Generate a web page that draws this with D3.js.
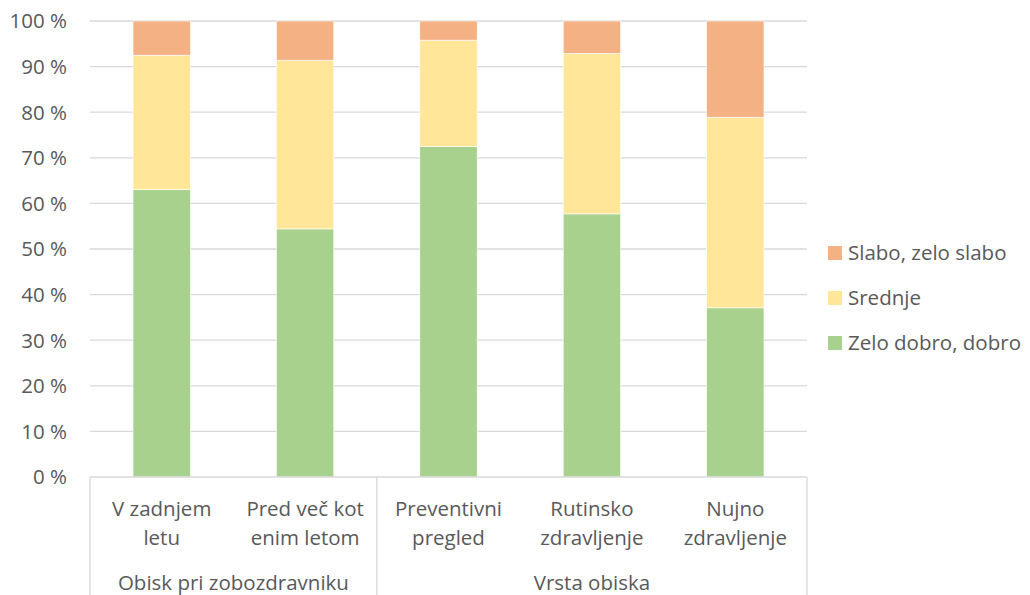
<!DOCTYPE html>
<html><head><meta charset="utf-8">
<script src="https://cdn.jsdelivr.net/npm/d3@7"></script>
<style>body{margin:0;background:#fff}svg{display:block}text{font-family:"Open Sans",Lato,sans-serif;fill:#595959}</style>
</head><body><svg id="c" width="1030" height="595"></svg>
<script>
const categories = [["V zadnjem","letu"],["Pred več kot","enim letom"],["Preventivni","pregled"],["Rutinsko","zdravljenje"],["Nujno","zdravljenje"]];
const groups = [{name:"Obisk pri zobozdravniku", from:0, to:1},{name:"Vrsta obiska", from:2, to:4}];
const seriesNames = ["Zelo dobro, dobro","Srednje","Slabo, zelo slabo"];
const zeloDobro = [63.0, 54.4, 72.5, 57.7, 37.1];
const srednje   = [29.5, 37.0, 23.3, 35.2, 41.8];
const slabo     = [7.5, 8.6, 4.2, 7.1, 21.1];
const yTicks = [0,10,20,30,40,50,60,70,80,90,100];
const colors = ["#A9D18E","#FFE699","#F4B183"];

const svg = d3.select("#c");
const L=90, R=807, T=21, B=477;
const FS=20.5;
const idx = categories.map((d,i)=>i);
const x = d3.scaleBand().domain(idx).range([L,R]).paddingInner(0.6).paddingOuter(0.3);
const step = x.step();
const y = d3.scaleLinear().domain([0,100]).range([B,T]);

// grid
svg.append("g").selectAll("line").data(yTicks.filter(t=>t>0)).join("line")
  .attr("x1",L).attr("x2",R).attr("y1",d=>y(d)).attr("y2",d=>y(d))
  .attr("stroke","#D9D9D9").attr("stroke-width",1.3);

// y labels
svg.append("g").selectAll("text").data(yTicks).join("text")
  .attr("x",67).attr("y",d=>y(d)).attr("dy","0.36em").attr("text-anchor","end")
  .attr("font-size",FS).text(d=>d+" %");

// stacked bars
const rows = idx.map(i=>({i, s0:zeloDobro[i], s1:srednje[i], s2:slabo[i]}));
const stack = d3.stack().keys(["s0","s1","s2"])(rows);
svg.append("g").selectAll("g").data(stack).join("g").attr("fill",(d,k)=>colors[k])
  .selectAll("rect").data(d=>d).join("rect")
  .attr("x",d=>x(d.data.i)).attr("width",x.bandwidth())
  .attr("y",d=>y(d[1])).attr("height",d=>y(d[0])-y(d[1]))
  .attr("stroke","#fff").attr("stroke-width",0.6);

// x axis
const ax = svg.append("g").attr("stroke","#D9D9D9").attr("stroke-width",1.3);
ax.append("line").attr("x1",L).attr("x2",R).attr("y1",B).attr("y2",B);
const seps = [L, ...groups.slice(1).map(g=>x(g.from)-(x.paddingInner()*step)/2), R];
ax.selectAll("line.sep").data(seps).join("line").attr("class","sep")
  .attr("x1",d=>d).attr("x2",d=>d).attr("y1",B).attr("y2",595);

// category labels
const cl = svg.append("g").selectAll("text").data(idx).join("text")
  .attr("text-anchor","middle").attr("font-size",FS);
cl.each(function(i){
  const t=d3.select(this);
  categories[i].forEach((line,k)=>{
    t.append("tspan").attr("x",x(i)+x.bandwidth()/2).attr("y",509+k*29).attr("dy","0.36em").text(line);
  });
});
// group labels
svg.append("g").selectAll("text").data(groups).join("text")
  .attr("text-anchor","middle").attr("font-size",FS)
  .attr("x",(g,gi)=>(seps[gi]+seps[gi+1])/2).attr("y",583).attr("dy","0.36em").text(g=>g.name);

// legend
const leg = svg.append("g").selectAll("g").data([2,1,0]).join("g")
  .attr("transform",(d,k)=>`translate(828,${253+k*45})`);
leg.append("rect").attr("x",0).attr("y",-7).attr("width",14).attr("height",14).attr("fill",d=>colors[d]);
leg.append("text").attr("x",20).attr("dy","0.36em").attr("font-size",FS).text(d=>seriesNames[d]);
</script></body></html>
